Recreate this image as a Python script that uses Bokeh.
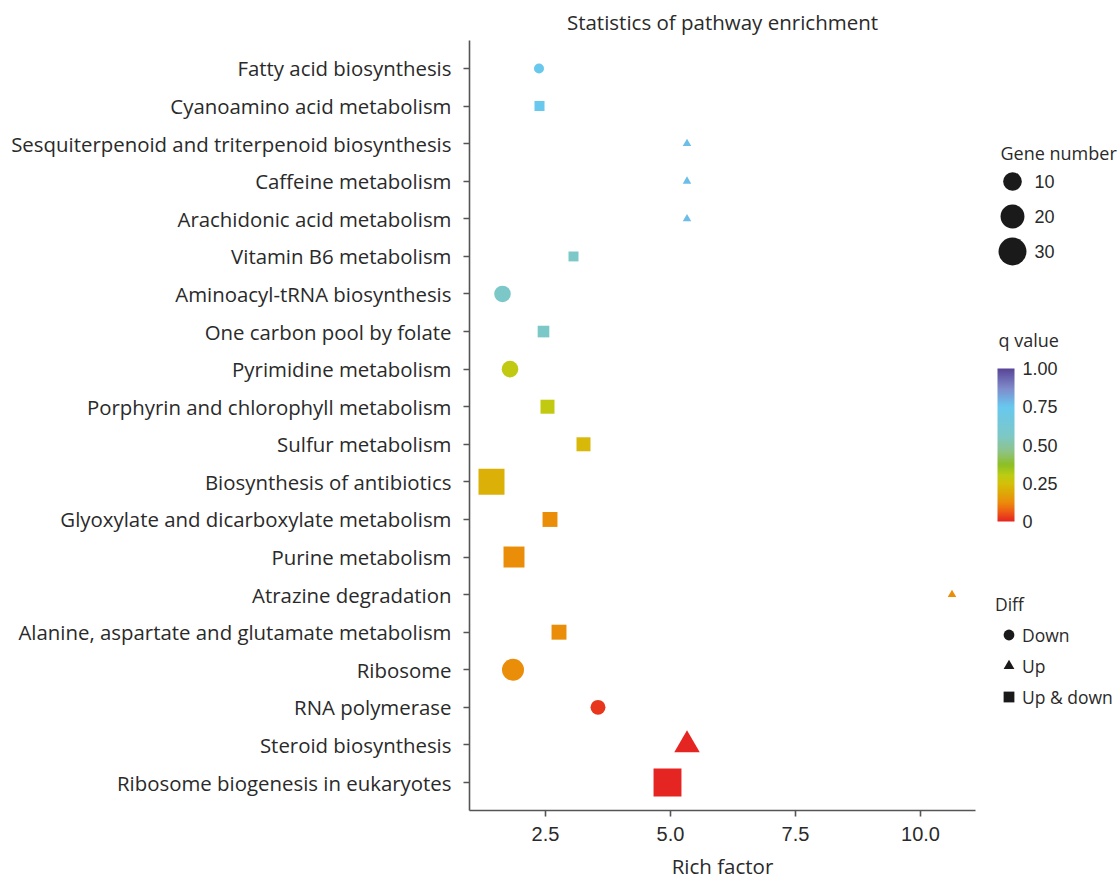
import numpy as np
from bokeh.plotting import figure
from bokeh.models import (ColumnDataSource, FactorRange, Range1d, LinearColorMapper, ColorBar,
                          FixedTicker, PrintfTickFormatter, Legend, LegendItem, Label)
from bokeh.transform import factor_mark
from bokeh.layouts import row
from bokeh.core.properties import value
from bokeh.embed import file_html
from bokeh.resources import INLINE

# ---------------- data ----------------
pathways = [
    "Fatty acid biosynthesis",
    "Cyanoamino acid metabolism",
    "Sesquiterpenoid and triterpenoid biosynthesis",
    "Caffeine metabolism",
    "Arachidonic acid metabolism",
    "Vitamin B6 metabolism",
    "Aminoacyl-tRNA biosynthesis",
    "One carbon pool by folate",
    "Pyrimidine metabolism",
    "Porphyrin and chlorophyll metabolism",
    "Sulfur metabolism",
    "Biosynthesis of antibiotics",
    "Glyoxylate and dicarboxylate metabolism",
    "Purine metabolism",
    "Atrazine degradation",
    "Alanine, aspartate and glutamate metabolism",
    "Ribosome",
    "RNA polymerase",
    "Steroid biosynthesis",
    "Ribosome biogenesis in eukaryotes",
]
rich_factor = [2.37, 2.38, 5.33, 5.33, 5.33, 3.06, 1.64, 2.46, 1.79, 2.54,
               3.26, 1.42, 2.59, 1.87, 10.63, 2.77, 1.85, 3.55, 5.33, 4.94]
gene_number = [1, 1, 1, 1, 1, 1, 7, 2, 7, 4, 4, 25, 5, 14, 1, 5, 16, 5, 36, 30]
q_value = [0.74, 0.74, 0.77, 0.77, 0.77, 0.57, 0.57, 0.57, 0.29, 0.29,
           0.23, 0.21, 0.13, 0.13, 0.13, 0.13, 0.13, 0.02, 0.0, 0.0]
diff = ["Down", "Up & down", "Up", "Up", "Up", "Up & down", "Down", "Up & down", "Down", "Up & down",
        "Up & down", "Up & down", "Up & down", "Up & down", "Up", "Up & down", "Down", "Down", "Up", "Up & down"]

diff_levels = ["Down", "Up", "Up & down"]
diff_markers = ["circle", "triangle", "square"]
size_breaks = [10, 20, 30]
q_ticks = [0, 0.25, 0.5, 0.75, 1.0]
x_ticks = [2.5, 5.0, 7.5, 10.0]

# ---------------- styles ----------------
TEXT = "#2a2a2a"
AXIS = "#555555"
LABEL_FONT = "Open Sans"
NUM_FONT = "Liberation Sans"
FIG_H = 882
BORDER_TOP, BORDER_BOTTOM = 40, 72
FRAME_H = FIG_H - BORDER_TOP - BORDER_BOTTOM

def gene_size(g):
    return 6 + 4.0 * np.sqrt(np.asarray(g, dtype=float))

shape_factor = {"Down": 1.0, "Up": 0.85, "Up & down": 1.0}

anchors = [
    (0.00, "#e52521"), (0.06, "#ee5a16"), (0.12, "#ec8a0b"), (0.20, "#dcae06"),
    (0.25, "#d4c00a"), (0.30, "#bccd12"), (0.37, "#8dbf24"), (0.46, "#8ec38a"),
    (0.56, "#7dc8c6"), (0.75, "#68c8ef"), (0.87, "#7f8ccc"), (1.00, "#594597"),
]
def _rgb(h):
    return [int(h[i:i + 2], 16) for i in (1, 3, 5)]
pos = np.array([a[0] for a in anchors])
cols = np.array([_rgb(a[1]) for a in anchors], dtype=float)
palette = []
for t in np.linspace(0, 1, 256):
    c = [np.interp(t, pos, cols[:, k]) for k in range(3)]
    palette.append("#%02x%02x%02x" % tuple(int(round(v)) for v in c))

mapper = LinearColorMapper(palette=palette, low=0, high=1)

sizes = [float(gene_size(g)) * shape_factor[d] for g, d in zip(gene_number, diff)]
src = ColumnDataSource(dict(pathway=pathways, rich=rich_factor, genes=gene_number,
                            q=q_value, diff=diff, size=sizes))

# ---------------- main figure ----------------
p = figure(width=980, height=FIG_H, output_backend="svg", toolbar_location=None,
           y_range=FactorRange(factors=list(reversed(pathways)), range_padding=0.245,
                               range_padding_units="absolute"),
           x_range=Range1d(0.98, 11.1),
           min_border_left=469, min_border_right=5, min_border_top=BORDER_TOP,
           min_border_bottom=BORDER_BOTTOM,
           title="Statistics of pathway enrichment")
p.outline_line_color = None
p.xgrid.visible = False
p.ygrid.visible = False
p.background_fill_color = "white"

p.title.align = "center"
p.title.text_font = LABEL_FONT
p.title.text_font_size = "20.5px"
p.title.text_font_style = "normal"
p.title.text_color = TEXT
p.title.standoff = 9

p.scatter(x="rich", y="pathway", source=src, size="size",
          marker=factor_mark("diff", diff_markers, diff_levels),
          fill_color={"field": "q", "transform": mapper}, line_color=None)

for ax in (p.xaxis[0], p.yaxis[0]):
    ax.axis_line_color = AXIS
    ax.axis_line_width = 1.6
    ax.major_tick_line_color = AXIS
    ax.major_tick_line_width = 1.6
    ax.major_tick_out = 6
    ax.major_tick_in = 0
    ax.minor_tick_line_color = None
    ax.major_label_text_color = TEXT

p.yaxis.major_label_text_font = LABEL_FONT
p.yaxis.major_label_text_font_size = "20.4px"
p.yaxis.major_label_standoff = 12

p.xaxis.ticker = FixedTicker(ticks=x_ticks)
p.xaxis.formatter = PrintfTickFormatter(format="%.1f")
p.xaxis.major_label_text_font = NUM_FONT
p.xaxis.major_label_text_font_size = "20px"
p.xaxis.major_label_standoff = 10
p.xaxis.axis_label = "Rich factor"
p.xaxis.axis_label_text_font = LABEL_FONT
p.xaxis.axis_label_text_font_size = "20.5px"
p.xaxis.axis_label_text_font_style = "normal"
p.xaxis.axis_label_text_color = TEXT
p.xaxis.axis_label_standoff = 8

# ---------------- side (legends) figure ----------------
SIDE_W = 140
ROW = 35.0
TOP0 = 181.0 - BORDER_TOP   # first size-legend row, relative to frame top
s = figure(width=SIDE_W, height=FIG_H, output_backend="svg", toolbar_location=None,
           x_range=Range1d(0, SIDE_W),
           y_range=Range1d((FRAME_H - TOP0) / ROW, -TOP0 / ROW),
           x_axis_location=None, y_axis_location=None,
           min_border_left=0, min_border_right=0, min_border_top=BORDER_TOP,
           min_border_bottom=BORDER_BOTTOM)
s.outline_line_color = None
s.xgrid.visible = False
s.ygrid.visible = False

def from_bottom(y_px):
    return (FIG_H - BORDER_BOTTOM) - y_px

idx = list(range(len(size_breaks)))
gsrc = ColumnDataSource(dict(idx=idx, size=list(gene_size(size_breaks)),
                             lab=[str(b) for b in size_breaks],
                             xm=[32] * len(size_breaks), xt=[54] * len(size_breaks)))
s.scatter(x="xm", y="idx", size="size", source=gsrc, marker="circle",
          fill_color="#1a1a1a", line_color=None)
s.text(x="xt", y="idx", text="lab", source=gsrc, text_baseline="middle", text_align="left",
       text_font=value(NUM_FONT), text_font_size="18px", text_color=TEXT)
s.add_layout(Label(x=20, y=from_bottom(152), x_units="screen", y_units="screen", text="Gene number",
                   text_baseline="middle", text_font=LABEL_FONT, text_font_size="18px",
                   text_color=TEXT))

s.add_layout(Label(x=18, y=from_bottom(339), x_units="screen", y_units="screen", text="q value",
                   text_baseline="middle", text_font=LABEL_FONT, text_font_size="18px",
                   text_color=TEXT))
cb = ColorBar(color_mapper=mapper, ticker=FixedTicker(ticks=q_ticks),
              formatter=PrintfTickFormatter(format="%.2f"), major_label_overrides={0: "0"},
              width=17, height=153, location=(17, from_bottom(521)), padding=0,
              major_label_text_font=NUM_FONT, major_label_text_font_size="18px",
              major_label_text_color=TEXT, label_standoff=8,
              major_tick_line_color=None, minor_tick_line_color=None, bar_line_color=None,
              background_fill_alpha=0, border_line_color=None)
s.add_layout(cb, "center")

items = []
for lvl, mk in zip(diff_levels, diff_markers):
    r = s.scatter(x=[np.nan], y=[np.nan], marker=mk, fill_color="#1a1a1a", line_color=None)
    items.append(LegendItem(label=lvl, renderers=[r]))
leg = Legend(items=items, location=(15, from_bottom(710)), title="Diff",
             title_text_font=LABEL_FONT, title_text_font_size="17.5px", title_text_font_style="normal",
             title_text_color=TEXT, title_standoff=5,
             label_text_font=LABEL_FONT, label_text_font_size="17.5px", label_text_color=TEXT,
             glyph_width=27, glyph_height=27, spacing=4, label_standoff=0, padding=0, margin=0,
             background_fill_alpha=0, border_line_alpha=0)
s.add_layout(leg, "center")

layout = row(p, s)
open("out.html", "w").write(file_html(layout, INLINE))
